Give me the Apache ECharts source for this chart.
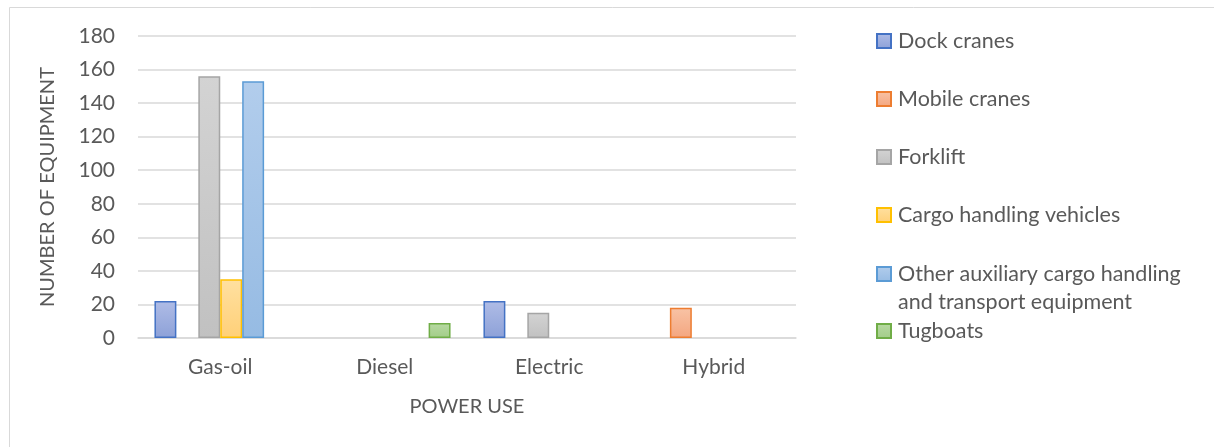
<!DOCTYPE html>
<html>
<head>
<meta charset="utf-8">
<style>
  html, body { margin: 0; padding: 0; background: #ffffff; }
  #chart { width: 1214px; height: 447px; }
</style>
<script src="https://cdn.jsdelivr.net/npm/echarts@6/dist/echarts.min.js"></script>
</head>
<body>
<div id="chart"></div>
<script>
// Equipment counts by power source
const categories = ['Gas-oil', 'Diesel', 'Electric', 'Hybrid'];
const seriesNames = [
  'Dock cranes',
  'Mobile cranes',
  'Forklift',
  'Cargo handling vehicles',
  'Other auxiliary cargo handling and transport equipment',
  'Tugboats'
];
const dockCranes    = [22, null, 22, null];
const mobileCranes  = [null, null, null, 18];
const forklift      = [156, null, 15, null];
const cargoVehicles = [35, null, null, null];
const otherEquip    = [153, null, null, null];
const tugboats      = [null, 9, null, null];
const yTicks = { min: 0, max: 180, interval: 20 };

const seriesData = [dockCranes, mobileCranes, forklift, cargoVehicles, otherEquip, tugboats];

// Office-style palette: light gradient fill with a darker outline
const palette = [
  { line: '#4472C4', top: '#afbce6', bottom: '#8da1d8' },
  { line: '#ED7D31', top: '#f8c3a5', bottom: '#f4a680' },
  { line: '#A5A5A5', top: '#d3d3d3', bottom: '#c1c1c1' },
  { line: '#FFC000', top: '#ffe0a0', bottom: '#ffd078' },
  { line: '#5B9BD5', top: '#b2cdec', bottom: '#96bbe3' },
  { line: '#70AD47', top: '#b8d9a3', bottom: '#a2cd88' }
];

const FONT = 'Lato';
const TEXT = '#595959';
const AXIS_SIZE = 21;
const NAME_SIZE = 20;
const LEGEND_SIZE = 21.5;

const chart = echarts.init(document.getElementById('chart'), null, { renderer: 'canvas' });

const series = seriesNames.map((name, i) => ({
  name: name,
  type: 'bar',
  data: seriesData[i],
  barGap: '0%',
  barCategoryGap: '20%',
  itemStyle: {
    color: new echarts.graphic.LinearGradient(0, 0, 0, 1, [
      { offset: 0, color: palette[i].top },
      { offset: 1, color: palette[i].bottom }
    ]),
    borderColor: palette[i].line,
    borderWidth: 1.5
  },
  emphasis: { disabled: true }
}));

// One legend block per entry so each row sits at its own height
const legendRows = [41, 99, 157, 215, 274, 331];
const legends = seriesNames.map((name, i) => {
  const twoLine = i === 4;
  return {
    data: [name],
    orient: 'vertical',
    left: 876,
    top: twoLine ? legendRows[i] - 42 : legendRows[i] - 14,
    padding: 0,
    icon: 'rect',
    itemWidth: 14,
    itemHeight: 14,
    selectedMode: false,
    formatter: twoLine
      ? '\nOther auxiliary cargo handling\nand transport equipment'
      : '{name}',
    textStyle: {
      fontFamily: FONT,
      fontSize: LEGEND_SIZE,
      color: TEXT,
      lineHeight: 28,
      padding: [0, 0, 0, 2]
    }
  };
});

chart.setOption({
  animation: false,
  backgroundColor: '#ffffff',
  textStyle: { fontFamily: FONT },
  graphic: [{
    type: 'rect',
    shape: { x: 9.5, y: 7.5, width: 1220, height: 460 },
    style: { fill: 'none', stroke: '#d9d9d9', lineWidth: 1 },
    silent: true,
    z: -1
  }],
  grid: { left: 138, right: 418, top: 36, bottom: 109, containLabel: false },
  legend: legends,
  xAxis: {
    type: 'category',
    data: categories,
    name: 'POWER USE',
    nameLocation: 'middle',
    nameGap: 59,
    nameTextStyle: { fontFamily: FONT, fontSize: NAME_SIZE, color: TEXT },
    axisLine: { lineStyle: { color: '#d9d9d9', width: 1.5 } },
    axisTick: { show: false },
    axisLabel: { fontFamily: FONT, fontSize: AXIS_SIZE, color: TEXT, margin: 19 }
  },
  yAxis: {
    type: 'value',
    min: yTicks.min,
    max: yTicks.max,
    interval: yTicks.interval,
    name: 'NUMBER OF EQUIPMENT',
    nameLocation: 'middle',
    nameGap: 80,
    nameTextStyle: { fontFamily: FONT, fontSize: NAME_SIZE, color: TEXT },
    axisLine: { show: false },
    axisTick: { show: false },
    axisLabel: { fontFamily: FONT, fontSize: AXIS_SIZE, color: TEXT, margin: 23 },
    splitLine: { lineStyle: { color: '#d9d9d9', width: 1.5 } }
  },
  series: series
});
</script>
</body>
</html>
